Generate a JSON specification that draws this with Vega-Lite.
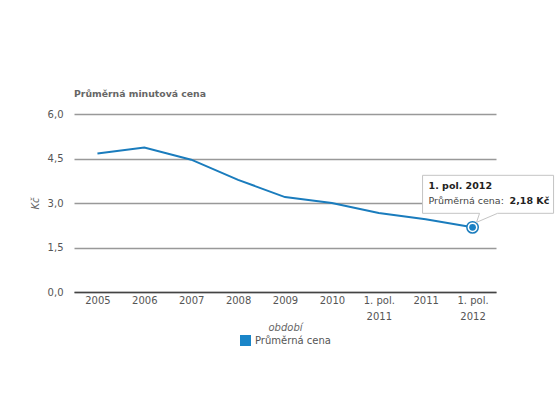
{
  "$schema": "https://vega.github.io/schema/vega-lite/v6.json",
  "autosize": "none",
  "width": 422,
  "height": 178,
  "padding": {"left": 74, "top": 114, "right": 64, "bottom": 128},
  "background": "white",
  "config": {
    "font": "DejaVu Sans",
    "view": {"stroke": null},
    "locale": {"number": {"decimal": ",", "thousands": " ", "grouping": [3], "currency": ["", " Kč"]}}
  },
  "title": {
    "text": "Průměrná minutová cena",
    "anchor": "start",
    "frame": "group",
    "fontSize": 9.3,
    "fontWeight": "bold",
    "color": "#666666",
    "baseline": "alphabetic",
    "offset": 3
  },
  "data": {
    "values": [
      {"obdobi": "2005", "cena": 4.67, "serie": "Průměrná cena"},
      {"obdobi": "2006", "cena": 4.87, "serie": "Průměrná cena"},
      {"obdobi": "2007", "cena": 4.46, "serie": "Průměrná cena"},
      {"obdobi": "2008", "cena": 3.78, "serie": "Průměrná cena"},
      {"obdobi": "2009", "cena": 3.2, "serie": "Průměrná cena"},
      {"obdobi": "2010", "cena": 3.0, "serie": "Průměrná cena"},
      {"obdobi": "1. pol. 2011", "cena": 2.66, "serie": "Průměrná cena"},
      {"obdobi": "2011", "cena": 2.45, "serie": "Průměrná cena"},
      {"obdobi": "1. pol. 2012", "cena": 2.18, "serie": "Průměrná cena"}
    ]
  },
  "encoding": {
    "x": {
      "field": "obdobi",
      "type": "nominal",
      "sort": null,
      "title": "období",
      "axis": {
        "labelAngle": 0,
        "labelFontSize": 10,
        "labelColor": "#555555",
        "labelLineHeight": 16,
        "labelPadding": 3,
        "labelExpr": "indexof(datum.label, 'pol.') > 0 ? ['1. pol.', substring(datum.label, 8)] : datum.label",
        "ticks": false,
        "domain": true,
        "domainColor": "#444444",
        "domainWidth": 1.5,
        "grid": false,
        "titleFontSize": 10,
        "titleFontStyle": "italic",
        "titleFontWeight": "normal",
        "titleColor": "#666666",
        "titlePadding": 1
      }
    },
    "y": {
      "field": "cena",
      "type": "quantitative",
      "title": "Kč",
      "scale": {"domain": [0, 6]},
      "axis": {
        "values": [0, 1.5, 3, 4.5, 6],
        "format": ".1f",
        "labelFontSize": 10,
        "labelColor": "#555555",
        "labelPadding": 11,
        "ticks": false,
        "domain": false,
        "grid": true,
        "gridColor": "#999999",
        "gridWidth": 1.5,
        "titleFontSize": 10,
        "titleFontStyle": "italic",
        "titleFontWeight": "normal",
        "titleColor": "#666666",
        "titlePadding": 7
      }
    }
  },
  "layer": [
    {
      "mark": {"type": "line", "strokeWidth": 2},
      "encoding": {
        "color": {
          "field": "serie",
          "type": "nominal",
          "scale": {"range": ["#1a7cbd"]},
          "legend": {
            "title": null,
            "orient": "none",
            "legendX": 166,
            "legendY": 221,
            "symbolType": "square",
            "symbolSize": 121,
            "symbolStrokeWidth": 0,
            "symbolFillColor": "#1a85c8",
            "labelFontSize": 10,
            "labelColor": "#555555",
            "labelOffset": 4
          }
        }
      }
    },
    {
      "transform": [{"filter": "datum.obdobi == '1. pol. 2012'"}],
      "layer": [
        {
          "mark": {"type": "point", "filled": true, "size": 130, "fill": "white", "stroke": "#1a7cbd", "strokeWidth": 1.5, "opacity": 1}
        },
        {
          "mark": {"type": "point", "filled": true, "size": 45, "fill": "#1a80c4", "opacity": 1}
        },
        {
          "mark": {
            "type": "point",
            "shape": "M-50,-52H81V-14H25L4,-5L7,-14H-50Z",
            "size": 4,
            "filled": true,
            "fill": "white",
            "stroke": "#c4c4c4",
            "strokeWidth": 1,
            "opacity": 1
          }
        },
        {
          "mark": {"type": "text", "align": "left", "baseline": "alphabetic", "dx": -44, "dy": -38, "fontSize": 9.5, "fontWeight": "bold", "color": "#222222"},
          "encoding": {"text": {"field": "obdobi"}}
        },
        {
          "mark": {"type": "text", "align": "left", "baseline": "alphabetic", "dx": -44, "dy": -23, "fontSize": 9.5, "color": "#444444", "text": "Průměrná cena:"}
        },
        {
          "mark": {"type": "text", "align": "left", "baseline": "alphabetic", "dx": 37, "dy": -23, "fontSize": 9.5, "fontWeight": "bold", "color": "#222222"},
          "encoding": {"text": {"field": "cena", "format": "$.2f"}}
        }
      ]
    }
  ]
}
